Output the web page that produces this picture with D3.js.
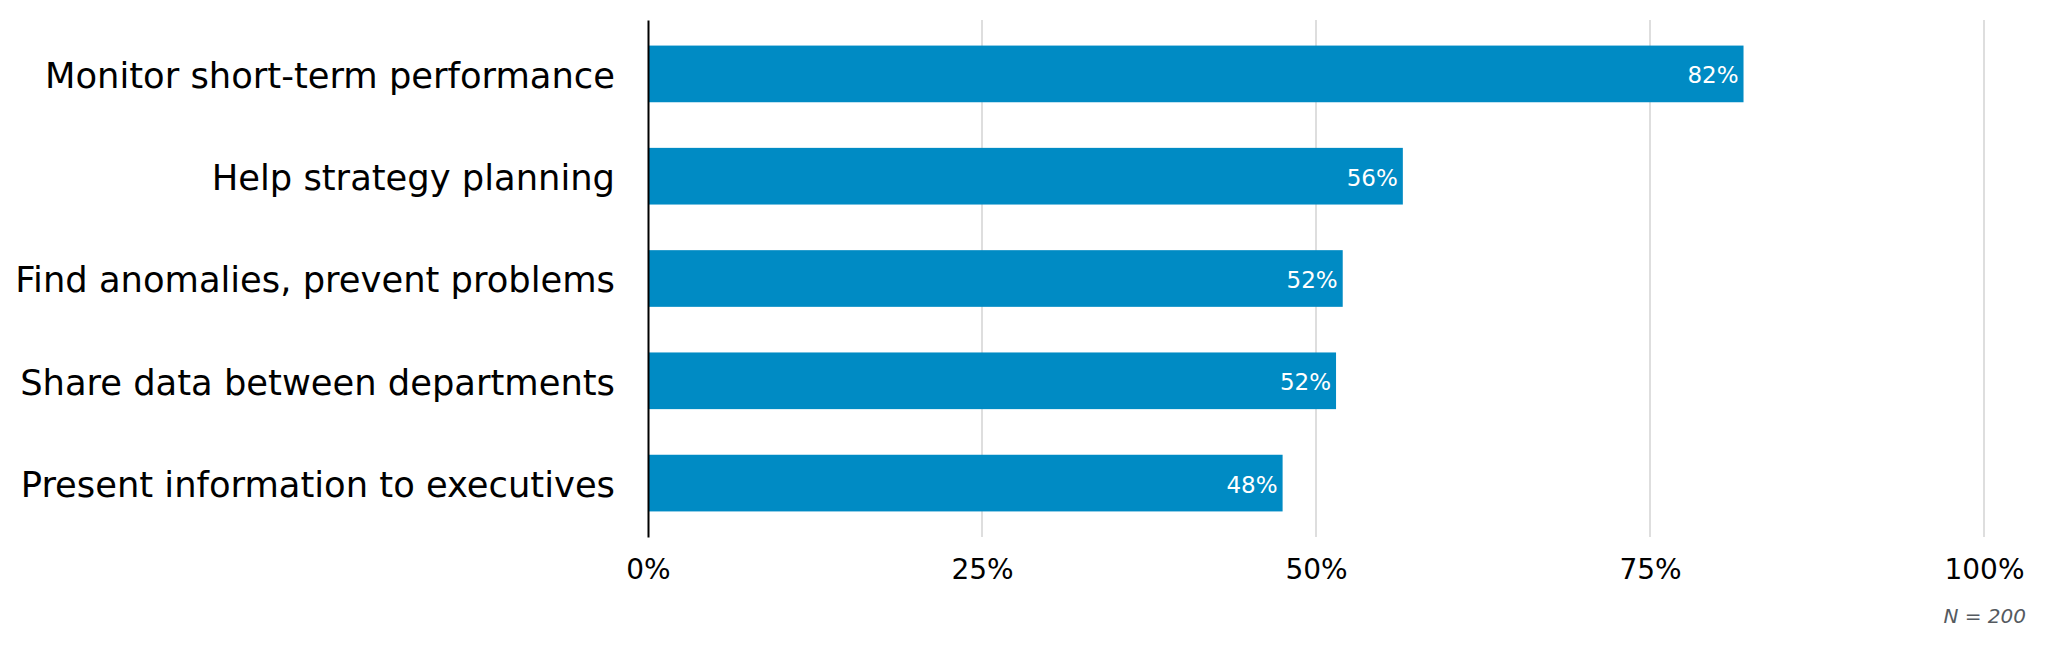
<!DOCTYPE html>
<html>
<head>
<meta charset="utf-8">
<script src="https://cdn.jsdelivr.net/npm/d3@7"></script>
<style>
  body { margin: 0; background: #fff; }
  svg { font-family: "DejaVu Sans", sans-serif; }
</style>
</head>
<body>
<div id="chart"></div>
<script>
const categories = [
  "Monitor short-term performance",
  "Help strategy planning",
  "Find anomalies, prevent problems",
  "Share data between departments",
  "Present information to executives"
];
const values = [82, 56.5, 52, 51.5, 47.5];
const valueLabels = ["82%", "56%", "52%", "52%", "48%"];
const ticks = [0, 25, 50, 75, 100];
const note = "N = 200";

const width = 2046, height = 660;
const margin = { top: 20, right: 62, bottom: 123, left: 648 };

const svg = d3.select("#chart")
  .append("svg")
  .attr("width", width)
  .attr("height", height);

const x = d3.scaleLinear().domain([0, 100]).range([margin.left, width - margin.right]);
const y = d3.scaleBand()
  .domain(categories)
  .range([margin.top, height - margin.bottom])
  .paddingInner(0.446)
  .paddingOuter(0.25);

// gridlines
svg.append("g")
  .selectAll("line")
  .data(ticks.filter(t => t > 0))
  .join("line")
  .attr("x1", d => x(d)).attr("x2", d => x(d))
  .attr("y1", margin.top).attr("y2", height - margin.bottom)
  .attr("stroke", "#d3d3d3")
  .attr("stroke-width", 1.5);

// bars
svg.append("g")
  .selectAll("rect")
  .data(categories)
  .join("rect")
  .attr("x", x(0))
  .attr("y", d => y(d))
  .attr("width", (d, i) => x(values[i]) - x(0))
  .attr("height", y.bandwidth())
  .attr("fill", "#008bc4");

// value labels
svg.append("g")
  .selectAll("text")
  .data(categories)
  .join("text")
  .attr("x", (d, i) => x(values[i]) - 5)
  .attr("y", d => y(d) + y.bandwidth() / 2)
  .attr("dy", "0.41em")
  .attr("text-anchor", "end")
  .attr("fill", "#fff")
  .style("font-size", "23px")
  .text((d, i) => valueLabels[i]);

// x axis labels
const xAxis = d3.axisBottom(x)
  .tickValues(ticks)
  .tickFormat(d => d + "%")
  .tickSize(0)
  .tickPadding(22);

svg.append("g")
  .attr("transform", `translate(0,${height - margin.bottom})`)
  .call(xAxis)
  .call(g => g.select(".domain").remove())
  .call(g => g.selectAll("text")
    .attr("fill", "#000")
    .style("font-family", "DejaVu Sans, sans-serif")
    .style("font-size", "28px"));

// y axis
const yAxis = d3.axisLeft(y).tickSize(0).tickPadding(33);
svg.append("g")
  .attr("transform", `translate(${x(0)},0)`)
  .call(yAxis)
  .call(g => g.select(".domain")
    .attr("stroke", "#000")
    .attr("stroke-width", 2))
  .call(g => g.selectAll("text")
    .attr("fill", "#000")
    .attr("dy", "0.39em")
    .style("font-family", "DejaVu Sans, sans-serif")
    .style("font-size", "35.3px"));

// note
svg.append("text")
  .attr("x", width - 20)
  .attr("y", 623)
  .attr("text-anchor", "end")
  .attr("fill", "#555a60")
  .style("font-style", "italic")
  .style("font-size", "20px")
  .text(note);
</script>
</body>
</html>
